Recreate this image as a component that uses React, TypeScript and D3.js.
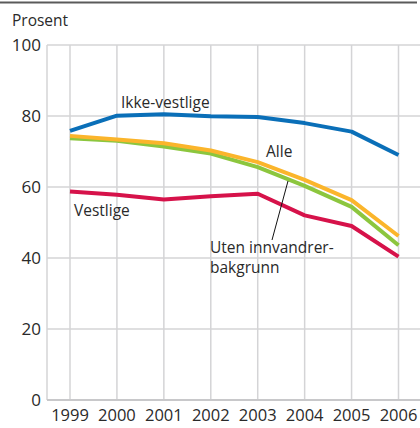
import React from 'react';
import * as d3 from 'd3';

const years = [1999, 2000, 2001, 2002, 2003, 2004, 2005, 2006];
const yTicks = [0, 20, 40, 60, 80, 100];
const ikkeVestlige = [75.8, 80.1, 80.5, 79.9, 79.7, 78.0, 75.6, 69.0];
const alle = [74.4, 73.4, 72.3, 70.3, 67.0, 62.0, 56.3, 46.2];
const utenInnvandrer = [73.7, 73.0, 71.4, 69.4, 65.6, 60.3, 54.4, 43.6];
const vestlige = [58.7, 57.8, 56.5, 57.4, 58.1, 52.0, 49.0, 40.4];

const W = 420;
const H = 428;
const font = "'Open Sans', 'DejaVu Sans', sans-serif";

const App: React.FC = () => {
  const x = d3.scaleLinear().domain([1999, 2006]).range([70, 398.5]);
  const y = d3.scaleLinear().domain([0, 100]).range([400, 45]);
  const line = d3
    .line<number>()
    .x((_, i) => x(years[i]))
    .y((d) => y(d));

  const series = [
    { vals: vestlige, color: '#d6124a' },
    { vals: ikkeVestlige, color: '#0a6fb8' },
    { vals: utenInnvandrer, color: '#8cc63e' },
    { vals: alle, color: '#fbb52b' },
  ];

  return (
    <svg
      width={W}
      height={H}
      style={{ position: 'absolute', left: 0, top: 0, background: '#fff' }}
      fontFamily={font}
    >
      <line x1={0} x2={417} y1={2.5} y2={2.5} stroke="#5a5a5a" strokeWidth={2} />
      {/* grid */}
      {yTicks.map((t) => (
        <line key={'h' + t} x1={47} x2={420} y1={y(t)} y2={y(t)} stroke="#d4d4d6" strokeWidth={1.5} />
      ))}
      {years.map((yr) => (
        <line key={'v' + yr} x1={x(yr)} x2={x(yr)} y1={y(100)} y2={y(0)} stroke="#d4d4d6" strokeWidth={1.5} />
      ))}
      <line x1={47} x2={47} y1={y(100)} y2={y(0)} stroke="#d4d4d6" strokeWidth={1.5} />
      <line x1={47} x2={420} y1={y(0)} y2={y(0)} stroke="#c8c8ca" strokeWidth={2} />
      {/* tick labels */}
      {yTicks.map((t) => (
        <text key={'yt' + t} x={41} y={y(t) + 6} textAnchor="end" fontSize={17} fill="#2a2a2a">
          {t}
        </text>
      ))}
      {years.map((yr) => (
        <text key={'xt' + yr} x={x(yr)} y={421} textAnchor="middle" fontSize={16.5} fill="#2a2a2a">
          {yr}
        </text>
      ))}
      <text x={12} y={26} fontSize={15.5} fill="#2a2a2a">Prosent</text>
      {/* lines */}
      {series.map((s, i) => (
        <path
          key={i}
          d={line(s.vals) || ''}
          fill="none"
          stroke={s.color}
          strokeWidth={4}
          strokeLinejoin="round"
        />
      ))}
      {/* labels */}
      <text x={121} y={108} fontSize={15.5} fill="#2a2a2a">Ikke-vestlige</text>
      <text x={266} y={157} fontSize={15.5} fill="#2a2a2a">Alle</text>
      <text x={74} y={216} fontSize={15.5} fill="#2a2a2a">Vestlige</text>
      <text x={210} y={253} fontSize={15.5} fill="#2a2a2a">Uten innvandrer-</text>
      <text x={210} y={273} fontSize={15.5} fill="#2a2a2a">bakgrunn</text>
      <line x1={272} y1={240} x2={288} y2={181} stroke="#111" strokeWidth={1} />
    </svg>
  );
};

export default App;
